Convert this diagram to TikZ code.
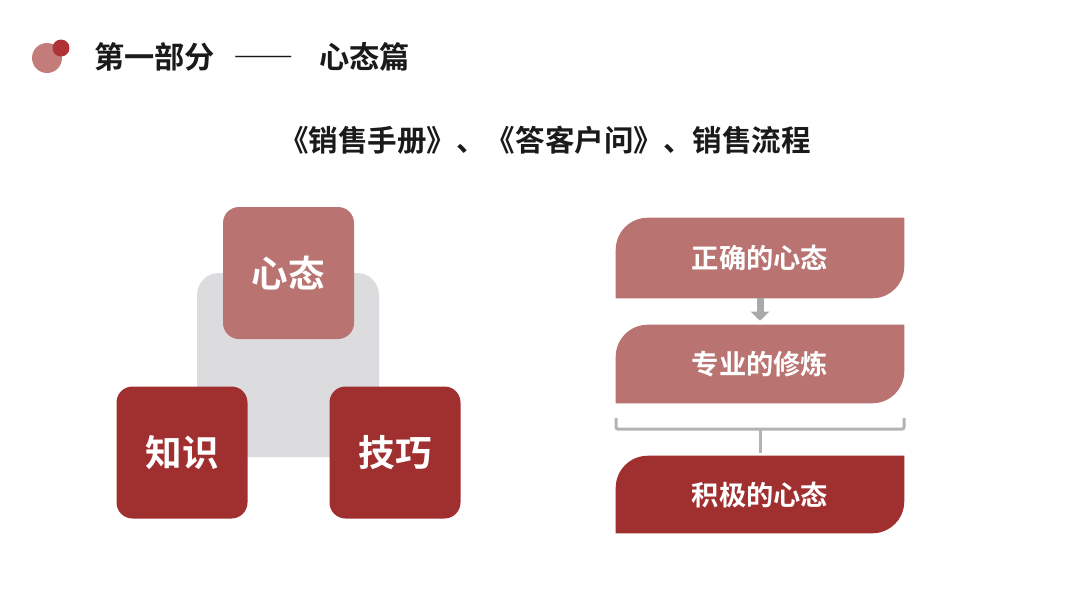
\documentclass[tikz,border=0pt]{standalone}
\usepackage{fontspec}
\usepackage{xcolor}
\usepackage{tikz}
\usetikzlibrary{arrows.meta,positioning}
\newfontfamily\cjk{Noto Sans CJK SC}[BoldFont={Noto Sans CJK SC Bold}]
\definecolor{softred}{HTML}{B97472}
\definecolor{deepred}{HTML}{A0302F}
\definecolor{padgray}{HTML}{DCDCDE}
\definecolor{linegray}{HTML}{B3B3B3}
\definecolor{arrowgray}{HTML}{A9A9A9}
\definecolor{dotbig}{HTML}{C47C7B}
\definecolor{dotsmall}{HTML}{B03234}
\definecolor{inkblack}{HTML}{1A1A1A}
\newcommand{\pxu}{0.025cm}

\begin{document}
\begin{tikzpicture}[x=0.025cm,y=-0.025cm,
  heading/.style={font=\cjk\bfseries\fontsize{21.5pt}{22pt}\selectfont,text=inkblack,inner sep=0pt},
  tile/.style={rounded corners=16*\pxu,minimum width=131*\pxu,minimum height=132*\pxu,
    inner sep=0pt,text=white,font=\cjk\bfseries\fontsize{26pt}{26pt}\selectfont},
  bar/.style={minimum width=288*\pxu,inner sep=0pt},
  bartext/.style={inner sep=0pt,text=white,font=\cjk\bfseries\fontsize{19.4pt}{20pt}\selectfont},
  brk/.style={draw=linegray,line width=3*\pxu,rounded corners=2*\pxu}]
\useasboundingbox[fill=white](0,0) rectangle (1080,608);

% heading
\fill[dotbig] (47,58) circle[radius=15*\pxu];
\fill[dotsmall] (61,48) circle[radius=8.5*\pxu];
\node[heading,anchor=west] (part) at (94,57)
  {第一部分\hspace{0.6em}{\addfontfeatures{CharacterWidth=Full}——}\hspace{0.85em}心态篇};
\node[heading,font=\cjk\bfseries\fontsize{21pt}{22pt}\selectfont] (books) at (545,140)
  {《销售手册》、《答客户问》、销售流程};

% left
\fill[padgray,rounded corners=22*\pxu] (197,273) rectangle (379,457);
\node[tile,fill=softred] (xt) at (288.5,273) {心态};
\node[tile,fill=deepred] (zs) at (182,452.5) {知识};
\node[tile,fill=deepred] (jq) at (395,452.5) {技巧};

% right
\node[bar,minimum height=80*\pxu] (b1) at (760,258) {};
\node[bar,minimum height=78*\pxu] (b2) at (760,364) {};
\node[bar,minimum height=77*\pxu] (b3) at (760,494.5) {};
\foreach \b/\c in {b1/softred,b2/softred,b3/deepred}
  \fill[\c] (\b.south west) [rounded corners=32*\pxu] -- (\b.north west) [sharp corners]
    -- (\b.north east) [rounded corners=32*\pxu] -- (\b.south east) [sharp corners] -- cycle;
\node[bartext] (t1) at (b1) {正确的心态};
\node[bartext] (t2) at (b2) {专业的修炼};
\node[bartext] (t3) at (b3) {积极的心态};

\draw[arrowgray,line width=7*\pxu,-{Triangle[width=18*\pxu,length=9*\pxu]},shorten >=4*\pxu]
  (b1.south) -- (b2.north);
\coordinate (bl) at (616,418);
\coordinate (br) at (904,418);
\coordinate (bmid) at (760,429);
\draw[brk] (bl) -- ++(0,11) -| (br);
\draw[brk] (bmid) -- ([yshift=3*\pxu]b3.north);
\end{tikzpicture}
\end{document}
